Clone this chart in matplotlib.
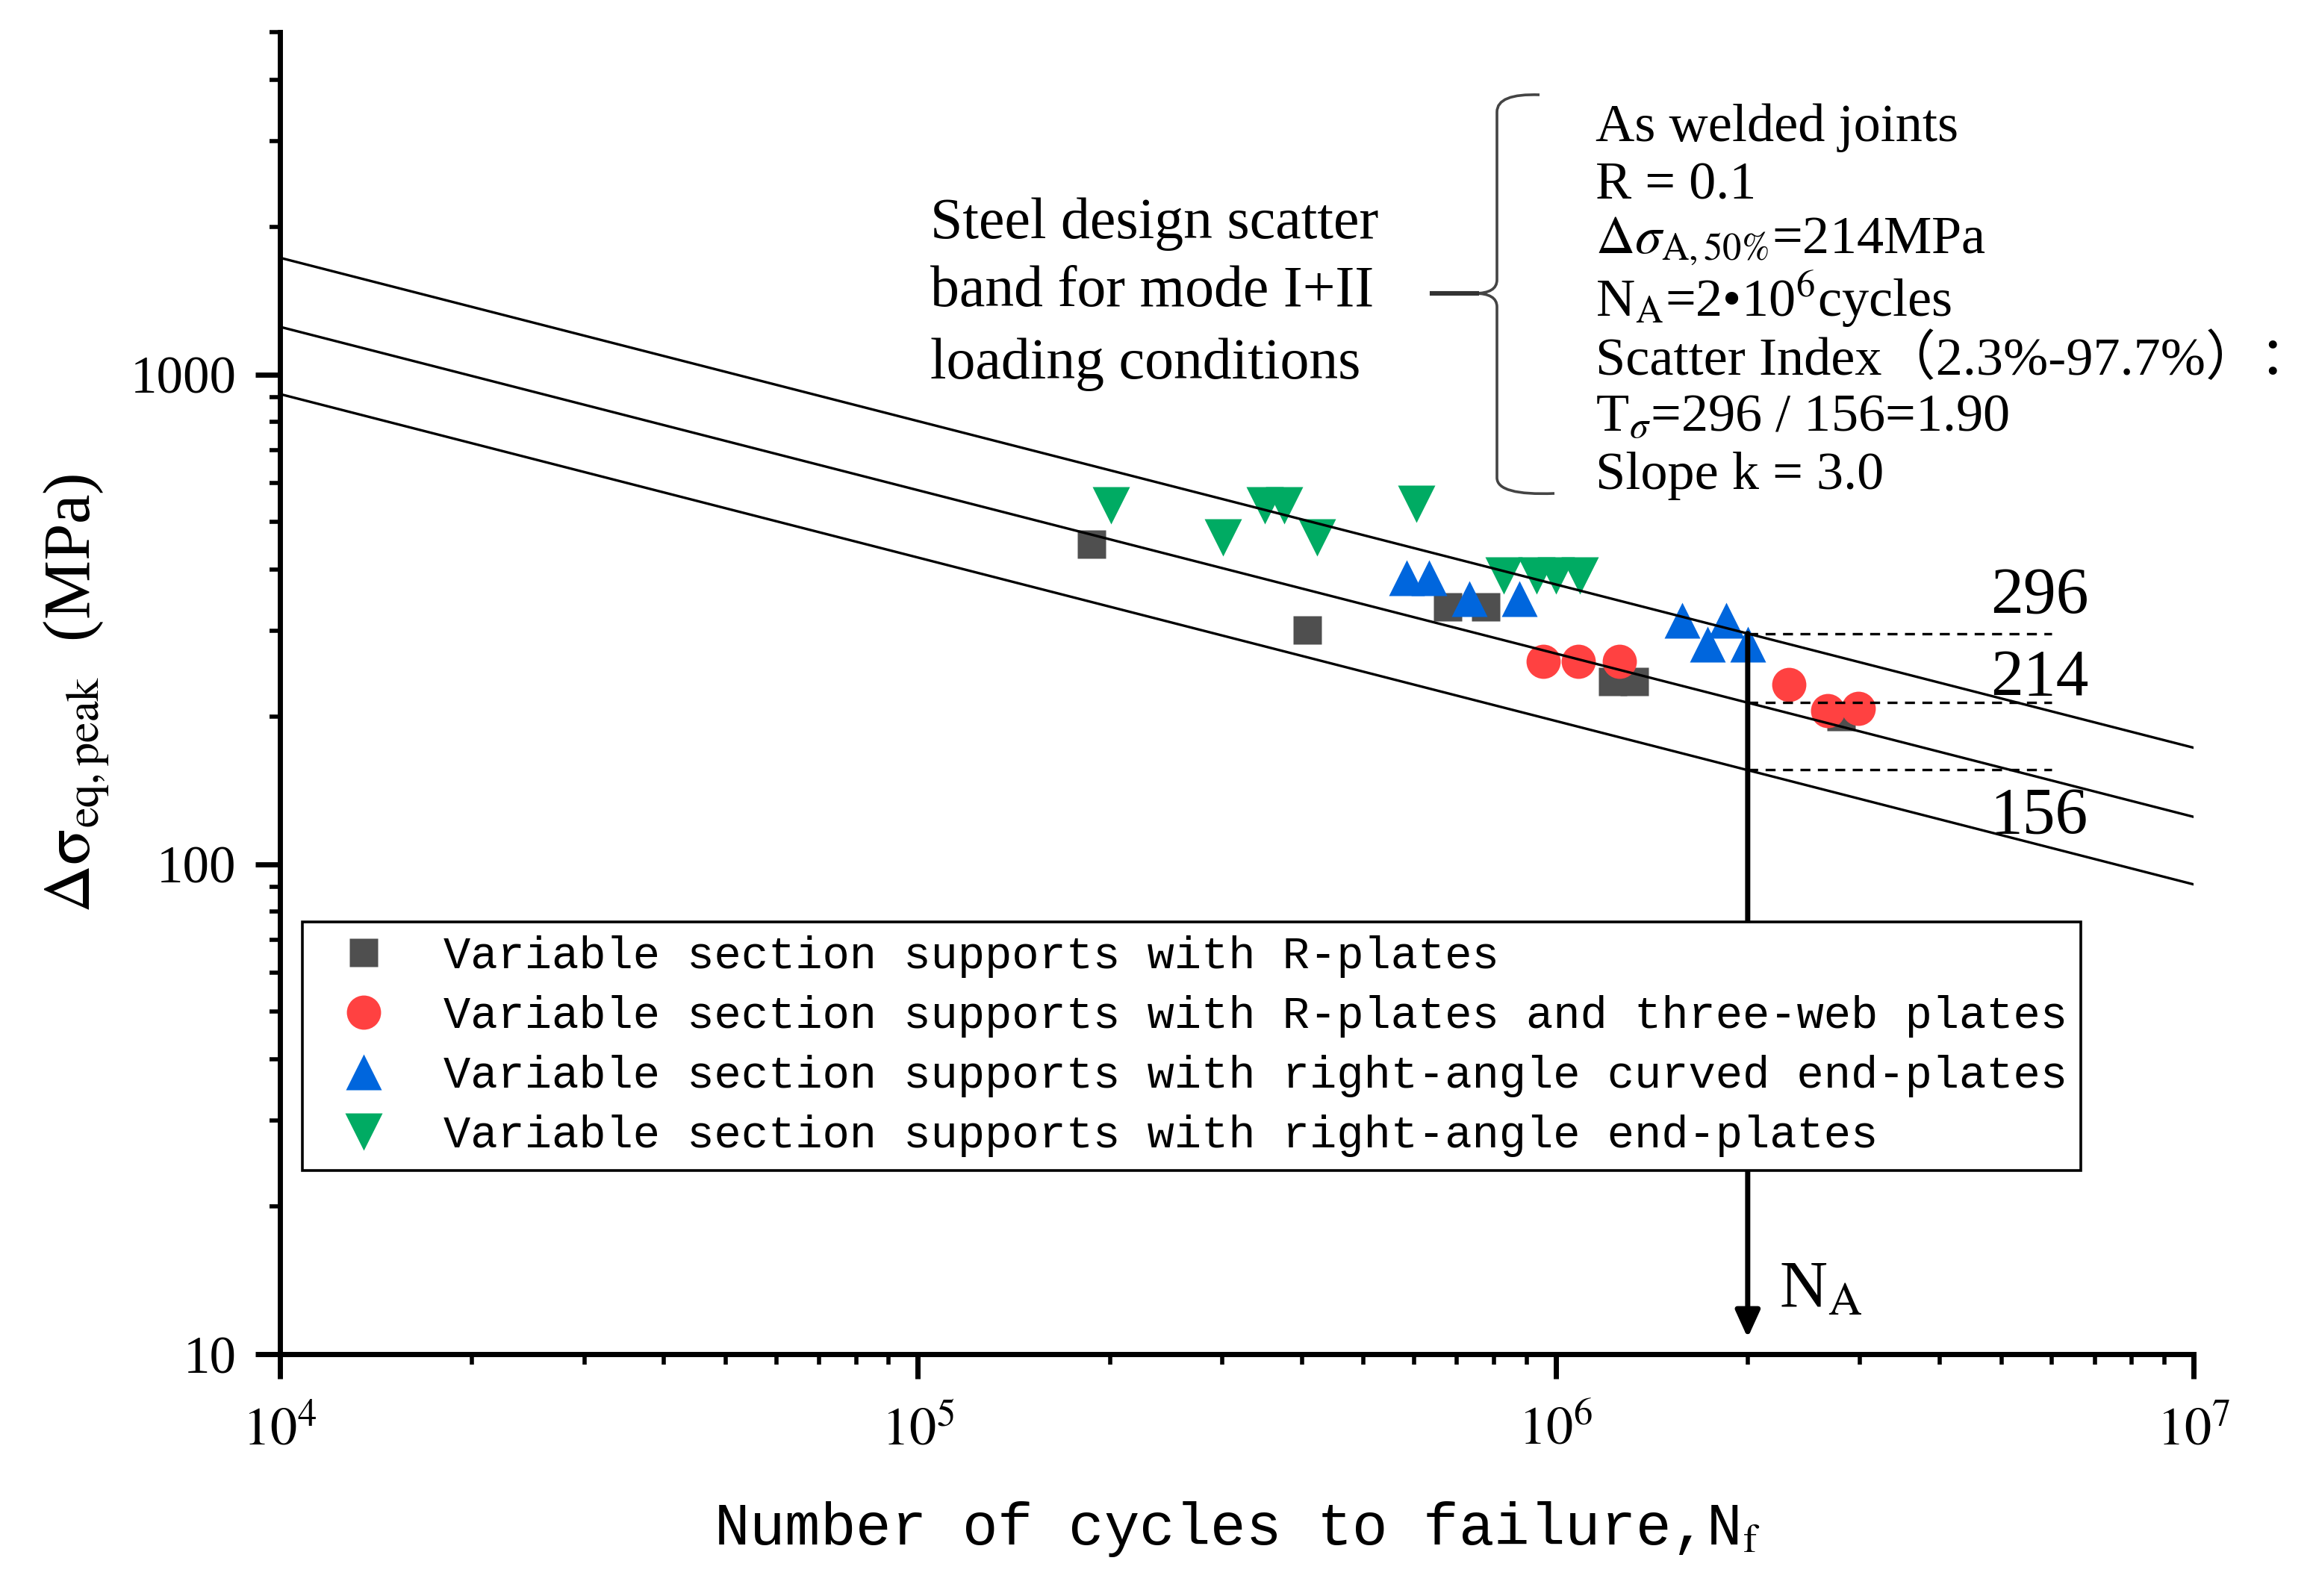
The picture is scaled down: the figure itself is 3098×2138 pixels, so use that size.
import numpy as np
import matplotlib
matplotlib.use("Agg")
import matplotlib.pyplot as plt
import matplotlib.ticker as mticker
from matplotlib.path import Path
from matplotlib.patches import PathPatch
from matplotlib.transforms import Affine2D

# ─────────────────────────────────────────────
# data
# ─────────────────────────────────────────────
r_plates_N = [1.87e5, 4.08e5, 6.77e5, 7.76e5, 1.23e6, 1.33e6, 2.80e6]
r_plates_S = [451, 301, 335, 335, 236, 236, 200]

three_web_N = [9.55e5, 1.086e6, 1.258e6, 2.32e6, 2.67e6, 2.98e6]
three_web_S = [260, 260, 260, 233, 206, 208]

curved_N = [5.84e5, 6.33e5, 7.33e5, 8.77e5, 1.58e6, 1.85e6, 1.73e6, 2.0e6]
curved_S = [385, 385, 349, 349, 315, 315, 281, 281]

end_plate_N = [2.01e5, 3.01e5, 3.50e5, 3.75e5, 4.22e5, 6.04e5,
               8.28e5, 9.33e5, 1.0e6, 1.09e6]
end_plate_S = [541, 465, 541, 541, 465, 544, 388, 388, 388, 388]

LABELS = ["Variable section supports with R-plates",
          "Variable section supports with R-plates and three-web plates",
          "Variable section supports with right-angle curved end-plates",
          "Variable section supports with right-angle end-plates"]

# scatter band end points (N = 1e4 and 1e7)
band_N     = [1e4, 1e7]
band_upper = [1731, 173]
band_mean  = [1251, 125]
band_lower = [912, 91]

N_A        = 2e6
band_at_NA = [296, 214, 156]
dash_end   = 6e6

# ─────────────────────────────────────────────
# style
# ─────────────────────────────────────────────
W, H, DPI = 3098, 2138, 200
SERIF = "Liberation Serif"
MONO  = "Liberation Mono"
plt.rcParams["font.family"] = SERIF
plt.rcParams["mathtext.fontset"] = "stix"

GRAY  = "#4F4F4F"
RED   = "#FF4141"
BLUE  = "#0066DD"
GREEN = "#00AB63"

fig = plt.figure(figsize=(W / DPI, H / DPI), dpi=DPI)
ax = fig.add_axes([375 / W, 1 - 1814 / H, (2938 - 375) / W, (1814 - 43) / H])

# pixel (y down) -> figure transform for the brace
pix = Affine2D().scale(1 / W, -1 / H).translate(0, 1) + fig.transFigure

# ── band lines ──
for vals in (band_upper, band_mean, band_lower):
    ax.plot(band_N, vals, color="black", lw=1.2, zorder=3)
for v in band_at_NA:
    ax.plot([N_A, dash_end], [v, v], color="black", lw=1.2,
            dashes=(4, 3), zorder=3)

# ── data ──
h1, = ax.plot(r_plates_N, r_plates_S, ls="none", marker="s", ms=13.5,
              color=GRAY, mec="none", zorder=2.0)
h2, = ax.plot(three_web_N, three_web_S, ls="none", marker="o", ms=16.5,
              color=RED, mec="none", zorder=2.1)
h4, = ax.plot(end_plate_N, end_plate_S, ls="none", marker="v", ms=18,
              color=GREEN, mec="none", zorder=2.2)
h3, = ax.plot(curved_N, curved_S, ls="none", marker="^", ms=17.5,
              color=BLUE, mec="none", zorder=2.3)

# ── N_A arrow ──
ax.annotate("", xy=(N_A, 10.8), xytext=(N_A, band_at_NA[0]),
            arrowprops=dict(arrowstyle="-|>,head_length=0.55,head_width=0.25",
                            mutation_scale=20, lw=2.5, color="black",
                            shrinkA=0, shrinkB=0),
            zorder=3)
ax.text(2.24e6, 12.5, r"N$_{\rm A}$", fontsize=32, va="baseline", ha="left")

# band value labels
for v, yb in zip(band_at_NA, [327, 222, 116]):
    ax.text(4.8e6, yb, str(v), fontsize=31.5, va="baseline", ha="left")

# ── axes ──
ax.set_xscale("log")
ax.set_yscale("log")
ax.set_xlim(1e4, 1e7)
ax.set_ylim(10, 5000)
for s in ("top", "right"):
    ax.spines[s].set_visible(False)
for s in ("left", "bottom"):
    ax.spines[s].set_linewidth(2.5)

ax.xaxis.set_major_locator(mticker.LogLocator(base=10, numticks=10))
ax.xaxis.set_minor_locator(mticker.LogLocator(base=10, subs=np.arange(2, 10), numticks=20))
ax.xaxis.set_minor_formatter(mticker.NullFormatter())
ax.xaxis.set_major_formatter(mticker.FuncFormatter(
    lambda v, p: r"$10^{%d}$" % round(np.log10(v))))
ax.yaxis.set_major_locator(mticker.FixedLocator([10, 100, 1000]))
ax.yaxis.set_minor_locator(mticker.LogLocator(base=10, subs=np.arange(2, 10), numticks=20))
ax.yaxis.set_minor_formatter(mticker.NullFormatter())
ax.yaxis.set_major_formatter(mticker.FuncFormatter(lambda v, p: "%d" % v))

ax.tick_params(which="major", length=12, width=2.5, direction="out")
ax.tick_params(which="minor", length=5, width=2, direction="out")
ax.tick_params(axis="x", which="major", labelsize=26, pad=13)
ax.tick_params(axis="y", which="major", labelsize=25.5, pad=9)

ax.set_xlabel(r"Number of cycles to failure,N$_{\rm f}$", fontsize=28.5,
              family=MONO, labelpad=21)
ax.set_ylabel(r"$\mathrm{\Delta\sigma_{eq,peak}}$  (MPa)", fontsize=32)
ax.yaxis.set_label_coords(-0.088, 0.5)

# ── legend ──
leg = ax.legend([h1, h2, h3, h4], LABELS, loc="upper left",
                bbox_to_anchor=(0.0117, 0.327), borderaxespad=0,
                prop={"family": MONO, "size": 21.8},
                frameon=True, fancybox=False, framealpha=1,
                edgecolor="black", borderpad=0.3, labelspacing=0.38,
                handlelength=2.12, handletextpad=0.7, numpoints=1)
leg.get_frame().set_linewidth(1.3)
leg.set_zorder(5)

# ── annotations ──
def ftext(x, y, s, **kw):
    fig.text(x / W, 1 - y / H, s, va="baseline", ha="left", **kw)

for s, yb in zip(["Steel design scatter", "band for mode I+II",
                  "loading conditions"], [319, 410, 507]):
    ftext(1246, yb, s, fontsize=28)

block = [r"As welded joints",
         r"R = 0.1",
         r"$\Delta\sigma_{\rm A,50\%}$=214MPa",
         r"N$_{\rm A}$=2•10$^{6}$cycles",
         "Scatter Index（2.3%-97.7%）：",
         r"T$_{\sigma}$=296 / 156=1.90",
         r"Slope k = 3.0"]
for s, yb in zip(block, [189, 267, 339, 424, 502, 577, 655]):
    ftext(2137, yb, s, fontsize=26, family=[SERIF, "Noto Sans CJK SC"])

# curly brace
verts = [(2062, 127), (2005, 125), (2005, 150),
         (2005, 375),
         (2005, 393), (1975, 393),
         (2005, 393), (2005, 411),
         (2005, 640),
         (2005, 664), (2082, 661)]
codes = [Path.MOVETO, Path.CURVE3, Path.CURVE3,
         Path.LINETO,
         Path.CURVE3, Path.CURVE3,
         Path.CURVE3, Path.CURVE3,
         Path.LINETO,
         Path.CURVE3, Path.CURVE3]
fig.add_artist(PathPatch(Path(verts, codes), fill=False, edgecolor="#444444",
                         lw=1.3, transform=pix))
fig.add_artist(plt.Line2D([1918, 1978], [393, 393], color="#333333",
                          lw=2.2, transform=pix))

fig.savefig("out.png", dpi=DPI, facecolor="white")
